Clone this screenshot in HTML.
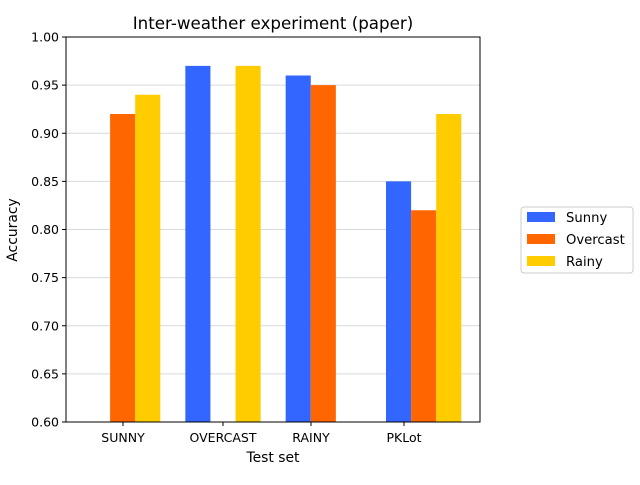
<!DOCTYPE html>
<html><head><meta charset="utf-8"><style>
body{margin:0;background:#fff;}
svg{font-family:"DejaVu Sans","Liberation Sans",sans-serif;}
</style></head><body>
<svg width="640" height="480">
<g id="grid"></g><g id="bars"></g><g id="axes"></g>
<text x="273" y="29" text-anchor="middle" font-size="16.7">Inter-weather experiment (paper)</text>
<text x="273" y="462" text-anchor="middle" font-size="13.9">Test set</text>
<text x="17" y="230" text-anchor="middle" font-size="13.9" transform="rotate(-90 17 230)">Accuracy</text>
<g>
<rect x="521" y="207" width="112" height="66" rx="3" fill="#fff" stroke="#ccc"/>
<rect x="527" y="212" width="28" height="10" fill="#3366ff"/>
<text x="566" y="222" font-size="13.2">Sunny</text>
<rect x="527" y="234" width="28" height="10" fill="#ff6600"/>
<text x="566" y="244" font-size="13.2">Overcast</text>
<rect x="527" y="256" width="28" height="10" fill="#ffcc00"/>
<text x="566" y="266" font-size="13.2">Rainy</text>
</g>
</svg>
<script>
const categories=["SUNNY","OVERCAST","RAINY","PKLot"];
const sunny=[0,0.97,0.96,0.85];
const overcast=[0.92,0,0.95,0.82];
const rainy=[0.94,0.97,0,0.92];
const yTicks=[0.60,0.65,0.70,0.75,0.80,0.85,0.90,0.95,1.00];
const labelCenters=[123,223,311,404];
const ns="http://www.w3.org/2000/svg";
const L=66,R=480,T=37,B=422,ymin=0.6,ymax=1.0;
const y=v=>B-(Math.max(v,ymin)-ymin)/(ymax-ymin)*(B-T);
const xg=i=>85+i*100.33;
const bw=25.1;
function mk(t,a,p){const e=document.createElementNS(ns,t);for(const k in a)e.setAttribute(k,a[k]);p.appendChild(e);return e;}
const grid=document.getElementById('grid'),bars=document.getElementById('bars'),axes=document.getElementById('axes');
yTicks.forEach(v=>{
 const l=mk('line',{x1:L,x2:R,y1:y(v),y2:y(v),stroke:'#d9d9d9'},grid);
 
 
 mk('line',{x1:L-4,x2:L,y1:y(v),y2:y(v),stroke:'#000'},axes);
 const t=mk('text',{x:L-7,y:y(v)+4.5,'text-anchor':'end','font-size':12.5},axes);
 t.textContent=v.toFixed(2);
 
 
});
const series=[[sunny,'#3366ff','sunny'],[overcast,'#ff6600','overcast'],[rainy,'#ffcc00','rainy']];
categories.forEach((c,i)=>{
 series.forEach(([d,col,n],j)=>{
  if(d[i]<=ymin)return;
  const r=mk('rect',{x:xg(i)+j*bw,y:y(d[i]),width:bw,height:B-y(d[i]),fill:col},bars);
  
  
 });
 const cx=labelCenters[i];
 mk('line',{x1:cx,x2:cx,y1:B,y2:B+4,stroke:'#000'},axes);
 const t=mk('text',{x:cx,y:B+20,'text-anchor':'middle','font-size':12.5},axes);
 t.textContent=c;
 
 
});
const f=mk('rect',{x:L,y:T,width:R-L,height:B-T,fill:'none',stroke:'#000'},axes);


</script>
</body></html>
